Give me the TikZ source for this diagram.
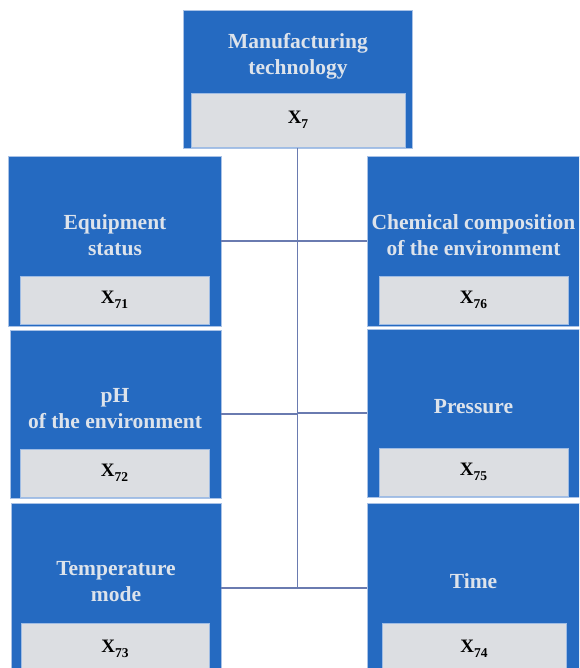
\documentclass[tikz,border=0pt]{standalone}
\usepackage{fontspec}
\setmainfont{Liberation Serif}
\definecolor{boxblue}{HTML}{256AC1}
\definecolor{boxedge}{HTML}{A9C2E6}
\definecolor{boxgray}{HTML}{DCDEE2}
\definecolor{grayedge}{HTML}{9FBCE4}
\definecolor{titlegray}{HTML}{DDE3EB}
\definecolor{linkc}{HTML}{6A7BB0}
\newcommand\xcode[1]{{\fontsize{19}{19}\selectfont X}\raisebox{-4.5pt}{\fontsize{13.5}{13.5}\selectfont #1}}
\begin{document}
\begin{tikzpicture}[x=1pt,y=-1pt,
  bluebox/.style={draw=boxedge, fill=boxblue, line width=0.8pt, inner sep=0pt, outer sep=0pt},
  graybox/.style={draw=grayedge, fill=boxgray, line width=0.8pt, inner sep=0pt, outer sep=0pt, font=\bfseries, text=black},
  title/.style={text=titlegray, font=\bfseries\fontsize{21.5}{26}\selectfont, align=center, inner sep=0pt},
  link/.style={draw=linkc, line width=1.1pt}]
\useasboundingbox (0,0) rectangle (579,668);
\clip (0,0) rectangle (579,668);
\fill[white] (0,0) rectangle (579,668);
% top
\node[bluebox, minimum width=229pt, minimum height=138pt] (T) at (297.5,79) {};
\node[graybox, minimum width=214pt, minimum height=54pt] (Tg) at (298,120) {\xcode{7}};
\node[title] (Tt) at (298,56) {Manufacturing\\technology};
% left column
\node[bluebox, minimum width=213pt, minimum height=170pt] (L1) at (114.5,241) {};
\node[graybox, minimum width=189pt, minimum height=48pt] (L1g) at (114.5,300) {\xcode{71}};
\node[title] (L1t) at (115,235) {Equipment\\status};
\node[bluebox, minimum width=211pt, minimum height=168pt] (L2) at (115.5,414) {};
\node[graybox, minimum width=189pt, minimum height=48pt] (L2g) at (114.5,473) {\xcode{72}};
\node[title] (L2t) at (115,408.5) {pH\\of the environment};
\node[bluebox, minimum width=210pt, minimum height=170pt] (L3) at (116,588) {};
\node[graybox, minimum width=188pt, minimum height=52pt] (L3g) at (115,649) {\xcode{73}};
\node[title] (L3t) at (116,581.5) {Temperature\\mode};
% right column
\node[bluebox, minimum width=214pt, minimum height=170pt] (R1) at (474,241) {};
\node[graybox, minimum width=189pt, minimum height=48pt] (R1g) at (473.5,300) {\xcode{76}};
\node[title] (R1t) at (473.5,235) {Chemical composition\\of the environment};
\node[bluebox, minimum width=214pt, minimum height=168pt] (R2) at (474,413) {};
\node[graybox, minimum width=189pt, minimum height=48pt] (R2g) at (473.5,472) {\xcode{75}};
\node[title] (R2t) at (473.5,407) {Pressure};
\node[bluebox, minimum width=214pt, minimum height=170pt] (R3) at (474,588) {};
\node[graybox, minimum width=184pt, minimum height=52pt] (R3g) at (474,649) {\xcode{74}};
\node[title] (R3t) at (473.5,581) {Time};
% connectors
\draw[link] (T.south) -- (T.south |- L3.east);
\draw[link] (L1.east) -- (R1.west);
\draw[link] (L2.east) -- (L2.east -| T.south);
\draw[link] (R2.west) -- (R2.west -| T.south);
\draw[link] (L3.east) -- (R3.west);
\end{tikzpicture}
\end{document}
